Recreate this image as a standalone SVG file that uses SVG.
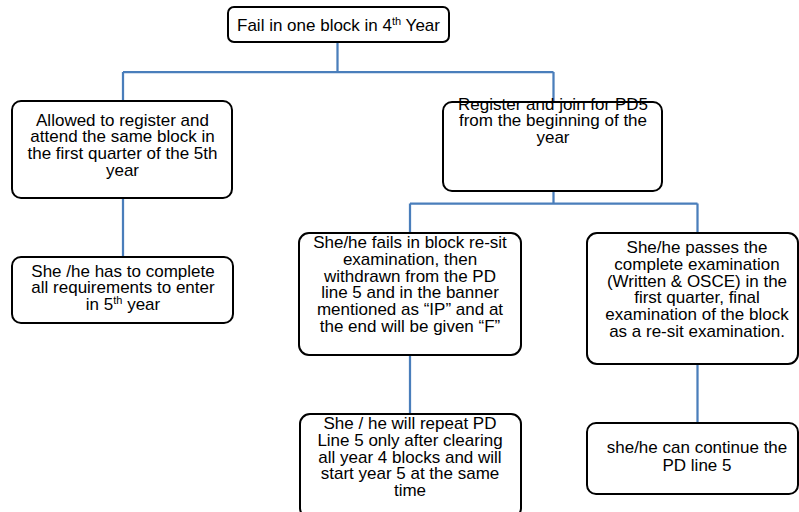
<svg xmlns="http://www.w3.org/2000/svg" width="799" height="512" viewBox="0 0 799 512">
  <style>
    .box { fill: #ffffff; stroke: #000000; stroke-width: 2; }
    .conn { fill: none; stroke: #4a7ebb; stroke-width: 2.25; }
    text { font-family: "Liberation Sans", Arial, sans-serif; font-size: 17px; fill: #000000; text-anchor: middle; }
    .sup { font-size: 11px; }
  </style>
  <rect width="799" height="512" fill="#ffffff"/>

  <g id="connectors">
    <path class="conn" d="M337.5,42 V72 M123,72 H553.5 M123,72 V101 M553.5,72 V102"/>
    <path class="conn" d="M123,198 V257"/>
    <path class="conn" d="M553.5,191 V203.5 M410,203.5 H697.5 M410,203.5 V233 M697.5,203.5 V233"/>
    <path class="conn" d="M410,355 V414"/>
    <path class="conn" d="M697.5,364 V423"/>
  </g>

  <g id="node-fail">
    <rect class="box" x="228" y="7" width="221" height="35" rx="6"/>
    <text x="338.5" y="30.5">Fail in one block in 4<tspan class="sup" dy="-6">th</tspan><tspan dy="6"> Year</tspan></text>
  </g>

  <g id="node-allowed">
    <rect class="box" x="12" y="101" width="220" height="97" rx="9"/>
    <text x="122.5" y="125.5">Allowed to register and</text>
    <text x="122.5" y="142.2">attend the same block in</text>
    <text x="122.5" y="158.9">the first quarter of the 5th</text>
    <text x="122.5" y="175.5">year</text>
  </g>

  <g id="node-register">
    <rect class="box" x="443" y="102" width="219" height="89" rx="9"/>
    <text x="553" y="109.5">Register and join for PD5</text>
    <text x="553" y="126.2">from the beginning of the</text>
    <text x="553" y="142.9">year</text>
  </g>

  <g id="node-complete">
    <rect class="box" x="12" y="257" width="221" height="66" rx="9"/>
    <text x="123" y="276.7">She /he has to complete</text>
    <text x="123" y="293.3">all requirements to enter</text>
    <text x="123" y="310">in 5<tspan class="sup" dy="-6">th</tspan><tspan dy="6"> year</tspan></text>
  </g>

  <g id="node-fails">
    <rect class="box" x="299" y="233" width="222" height="122" rx="10"/>
    <text x="410" y="248.3">She/he fails in block re-sit</text>
    <text x="410" y="265">examination, then</text>
    <text x="410" y="281.7">withdrawn from the PD</text>
    <text x="410" y="298.3">line 5 and in the banner</text>
    <text x="410" y="315">mentioned as “IP” and at</text>
    <text x="410" y="331.7">the end will be given “F”</text>
  </g>

  <g id="node-passes">
    <rect class="box" x="587" y="233" width="211" height="131" rx="10"/>
    <text x="697" y="253.3">She/he passes the</text>
    <text x="697" y="270">complete examination</text>
    <text x="697" y="286.7">(Written &amp; OSCE) in the</text>
    <text x="697" y="303.3">first quarter, final</text>
    <text x="697" y="320">examination of the block</text>
    <text x="697" y="336.7">as a re-sit examination.</text>
  </g>

  <g id="node-repeat">
    <rect class="box" x="300" y="414" width="221" height="104" rx="10"/>
    <text x="410" y="429.3">She / he will repeat PD</text>
    <text x="410" y="446">Line 5 only after clearing</text>
    <text x="410" y="462.7">all year 4 blocks and will</text>
    <text x="410" y="479.3">start year 5 at the same</text>
    <text x="410" y="496">time</text>
  </g>

  <g id="node-continue">
    <rect class="box" x="587" y="423" width="211" height="71" rx="9"/>
    <text x="697" y="453">she/he can continue the</text>
    <text x="697" y="470.5">PD line 5</text>
  </g>
</svg>
